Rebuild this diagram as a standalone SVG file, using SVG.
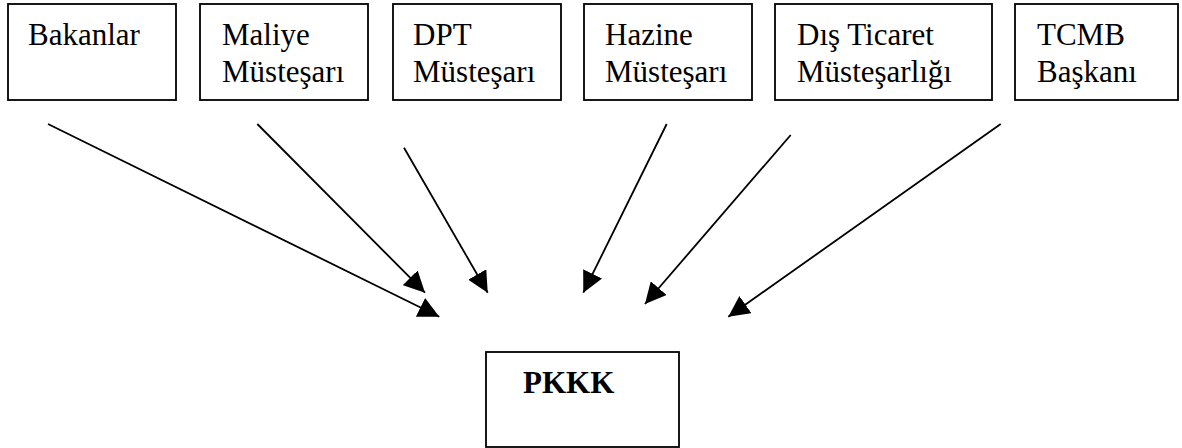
<svg xmlns="http://www.w3.org/2000/svg" width="1182" height="448" viewBox="0 0 1182 448">
<style>
.box{fill:#fff;stroke:#000;stroke-width:1.8}
.t{font-family:"Liberation Serif","Times New Roman",serif;font-size:31px;fill:#000}
.b{font-weight:bold}
.c{stroke:#000;stroke-width:1.8;fill:none;marker-end:url(#ah)}
</style>
<defs>
<marker id="ah" markerUnits="userSpaceOnUse" markerWidth="21" markerHeight="21" refX="21" refY="10.5" orient="auto" viewBox="0 0 21 21">
<path d="M0,0 L21,10.5 L0,21 Z" fill="#000"/>
</marker>
</defs>
<rect width="1182" height="448" fill="#fff"/>
<g id="n-bakanlar"><rect class="box" x="8" y="4" width="168" height="96"/><text class="t" x="28" y="45">Bakanlar</text></g>
<g id="n-maliye"><rect class="box" x="200" y="4" width="168" height="96"/><text class="t" x="222" y="45">Maliye</text><text class="t" x="222" y="81.5">Müsteşarı</text></g>
<g id="n-dpt"><rect class="box" x="393" y="4" width="168" height="96"/><text class="t" x="413" y="45">DPT</text><text class="t" x="413" y="81.5">Müsteşarı</text></g>
<g id="n-hazine"><rect class="box" x="584" y="4" width="168" height="96"/><text class="t" x="605" y="45">Hazine</text><text class="t" x="605" y="81.5">Müsteşarı</text></g>
<g id="n-disticaret"><rect class="box" x="775" y="4" width="217" height="96"/><text class="t" x="797" y="45">Dış Ticaret</text><text class="t" x="797" y="81.5">Müsteşarlığı</text></g>
<g id="n-tcmb"><rect class="box" x="1015" y="4" width="163" height="96"/><text class="t" x="1037" y="45">TCMB</text><text class="t" x="1037" y="81.5">Başkanı</text></g>
<g id="n-pkkk"><rect class="box" x="486" y="352" width="193" height="95"/><text class="t b" x="523" y="393">PKKK</text></g>
<g id="connectors">
<line class="c" x1="48" y1="124" x2="439.3" y2="316.7"/>
<line class="c" x1="257.3" y1="124" x2="425" y2="292.7"/>
<line class="c" x1="404" y1="147.7" x2="487.7" y2="292.7"/>
<line class="c" x1="666.7" y1="124" x2="583.3" y2="292.7"/>
<line class="c" x1="790.7" y1="135" x2="645" y2="304"/>
<line class="c" x1="1000.7" y1="124" x2="728.3" y2="316.7"/>
</g>
</svg>
